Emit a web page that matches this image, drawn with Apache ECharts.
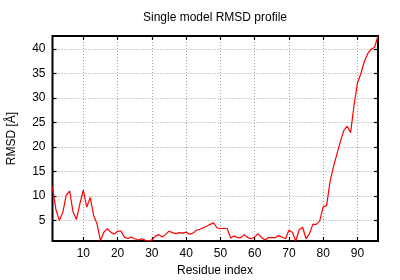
<!DOCTYPE html>
<html>
<head>
<meta charset="utf-8">
<script src="https://cdn.jsdelivr.net/npm/echarts@6/dist/echarts.min.js"></script>
<style>html,body{margin:0;padding:0;background:#fff}#c{width:400px;height:280px}</style>
</head>
<body>
<div id="c"></div>
<script>
const residues = [1,2,3,4,5,6,7,8,9,10,11,12,13,14,15,16,17,18,19,20,21,22,23,24,25,26,27,28,29,30,31,32,33,34,35,36,37,38,39,40,41,42,43,44,45,46,47,48,49,50,51,52,53,54,55,56,57,58,59,60,61,62,63,64,65,66,67,68,69,70,71,72,73,74,75,76,77,78,79,80,81,82,83,84,85,86,87,88,89,90,91,92,93,94,95,96];
const rmsd = [11.8,7.2,5.0,6.6,10.1,11.0,6.7,5.2,8.4,11.2,7.7,9.7,6.0,4.3,0.9,2.6,3.3,2.6,2.2,2.8,2.8,1.6,1.3,1.6,1.25,1.0,1.25,1.0,0.8,1.0,1.8,2.1,1.6,2.1,2.8,2.5,2.3,2.5,2.4,2.6,2.2,2.4,3.0,3.2,3.5,3.8,4.2,4.5,3.5,3.3,3.4,3.3,1.4,1.8,1.5,1.5,2.1,1.5,1.25,1.6,2.3,1.5,1.0,1.5,1.5,1.5,1.9,1.6,1.25,3.0,2.6,0.8,3.1,3.6,1.25,2.3,4.2,4.2,4.9,7.8,8.0,12.9,15.9,18.5,21.0,23.3,24.2,22.9,28.4,33.0,34.9,37.4,39.0,39.9,40.3,42.6];
const xTicks = [10,20,30,40,50,60,70,80,90];
const yTicks = [5,10,15,20,25,30,35,40];
const titleText = 'Single model RMSD profile';
const xName = 'Residue index';
const yName = 'RMSD [Å]';

const FONT = 'Liberation Sans, Arial, sans-serif';
const xMin = residues[0], xMax = residues[residues.length - 1];
const yMin = Math.min(...rmsd), yMax = Math.max(...rmsd);
const grid = {left: 52.5, right: 22, top: 36, bottom: 39};

const chart = echarts.init(document.getElementById('c'), null, {renderer: 'canvas'});
const splitStyle = {show: true, lineStyle: {color: '#a0a0a0', type: [1, 2], width: 1}};
const baseX = {
  type: 'value', min: xMin, max: xMax,
  axisLine: {show: false},
  axisTick: {show: true, inside: true, length: 4, customValues: xTicks, lineStyle: {color: '#000', width: 1.2}},
  axisLabel: {show: true, customValues: xTicks, color: '#000', fontSize: 12, fontFamily: FONT, margin: 7},
  splitLine: splitStyle
};
const baseY = {
  type: 'value', min: yMin, max: yMax,
  axisLine: {show: false},
  axisTick: {show: true, inside: true, length: 4, customValues: yTicks, lineStyle: {color: '#000', width: 1.2}},
  axisLabel: {show: true, customValues: yTicks, color: '#000', fontSize: 12, fontFamily: FONT, margin: 7},
  splitLine: splitStyle
};
chart.setOption({
  animation: false,
  backgroundColor: '#fff',
  grid: Object.assign({show: true, borderColor: '#000', borderWidth: 2, containLabel: false}, grid),
  xAxis: [
    Object.assign({}, baseX, {position: 'bottom'}),
    Object.assign({}, baseX, {position: 'top', axisLabel: {show: false, customValues: xTicks}, splitLine: {show: false}})
  ],
  yAxis: [
    Object.assign({}, baseY, {position: 'left'}),
    Object.assign({}, baseY, {position: 'right', axisLabel: {show: false, customValues: yTicks}, splitLine: {show: false}})
  ],
  graphic: [
    {type: 'text', x: 215, y: 18, style: {text: titleText, font: '12px ' + FONT, fill: '#000', align: 'center', verticalAlign: 'middle'}},
    {type: 'text', x: 215, y: 271, style: {text: xName, font: '12px ' + FONT, fill: '#000', align: 'center', verticalAlign: 'middle'}},
    {type: 'text', x: 12, y: 138.5, rotation: Math.PI / 2, style: {text: yName, font: '12px ' + FONT, fill: '#000', align: 'center', verticalAlign: 'middle'}}
  ],
  series: [{
    type: 'line',
    data: residues.map((r, i) => [r, rmsd[i]]),
    showSymbol: false,
    symbol: 'none',
    lineStyle: {color: '#ff0000', width: 1.2},
    clip: true
  }]
});
</script>
</body>
</html>
